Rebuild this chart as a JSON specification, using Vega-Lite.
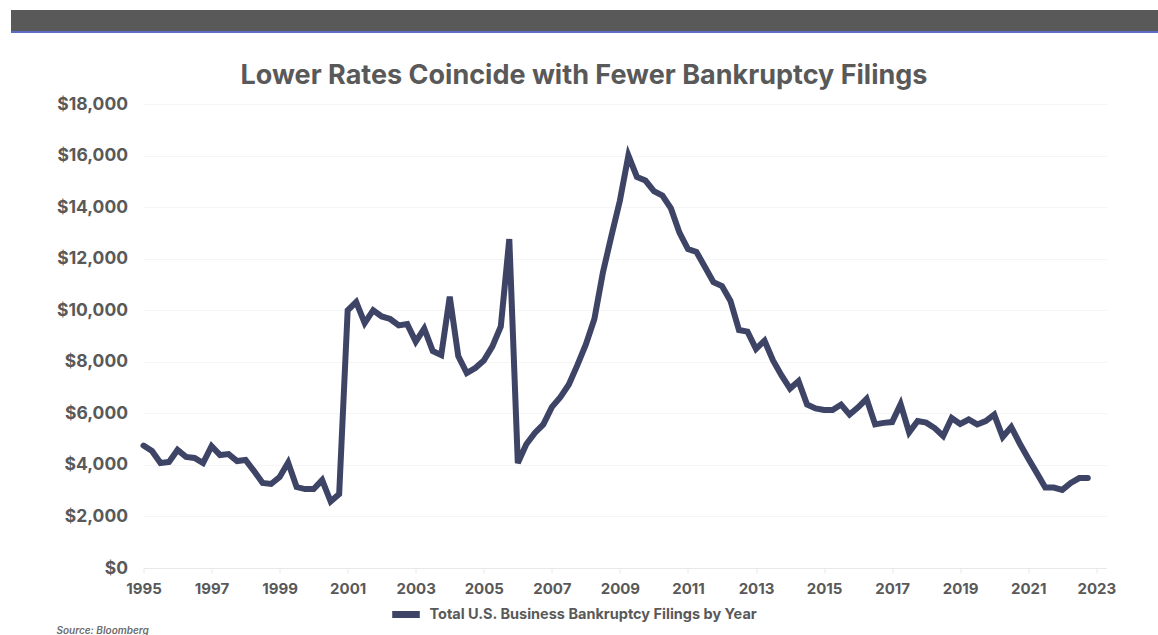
{
  "$schema": "https://vega.github.io/schema/vega-lite/v6.json",
  "background": "white",
  "padding": {"left": 10, "top": 10, "right": 0, "bottom": 0},
  "autosize": {"type": "pad"},
  "bounds": "flush",
  "center": true,
  "spacing": 72,
  "resolve": {"legend": {"color": "independent"}},
  "config": {"font": "Inter", "view": {"stroke": null}},
  "datasets": {
    "filings": [
      {"year": 1995.0, "filings": 4750}, {"year": 1995.25, "filings": 4540}, {"year": 1995.5, "filings": 4070}, {"year": 1995.75, "filings": 4110},
      {"year": 1996.0, "filings": 4580}, {"year": 1996.25, "filings": 4310}, {"year": 1996.5, "filings": 4270}, {"year": 1996.75, "filings": 4070},
      {"year": 1997.0, "filings": 4730}, {"year": 1997.25, "filings": 4380}, {"year": 1997.5, "filings": 4420}, {"year": 1997.75, "filings": 4150},
      {"year": 1998.0, "filings": 4190}, {"year": 1998.25, "filings": 3760}, {"year": 1998.5, "filings": 3300}, {"year": 1998.75, "filings": 3260},
      {"year": 1999.0, "filings": 3530}, {"year": 1999.25, "filings": 4090}, {"year": 1999.5, "filings": 3140}, {"year": 1999.75, "filings": 3060},
      {"year": 2000.0, "filings": 3060}, {"year": 2000.25, "filings": 3410}, {"year": 2000.5, "filings": 2580}, {"year": 2000.75, "filings": 2870},
      {"year": 2001.0, "filings": 10000}, {"year": 2001.25, "filings": 10320}, {"year": 2001.5, "filings": 9500}, {"year": 2001.75, "filings": 10000},
      {"year": 2002.0, "filings": 9760}, {"year": 2002.25, "filings": 9660}, {"year": 2002.5, "filings": 9410}, {"year": 2002.75, "filings": 9460},
      {"year": 2003.0, "filings": 8780}, {"year": 2003.25, "filings": 9290}, {"year": 2003.5, "filings": 8420}, {"year": 2003.75, "filings": 8260},
      {"year": 2004.0, "filings": 10530}, {"year": 2004.25, "filings": 8220}, {"year": 2004.5, "filings": 7560}, {"year": 2004.75, "filings": 7760},
      {"year": 2005.0, "filings": 8050}, {"year": 2005.25, "filings": 8590}, {"year": 2005.5, "filings": 9370}, {"year": 2005.75, "filings": 12760},
      {"year": 2006.0, "filings": 4070}, {"year": 2006.25, "filings": 4800}, {"year": 2006.5, "filings": 5240}, {"year": 2006.75, "filings": 5570},
      {"year": 2007.0, "filings": 6240}, {"year": 2007.25, "filings": 6630}, {"year": 2007.5, "filings": 7120}, {"year": 2007.75, "filings": 7870},
      {"year": 2008.0, "filings": 8670}, {"year": 2008.25, "filings": 9660}, {"year": 2008.5, "filings": 11460}, {"year": 2008.75, "filings": 12880},
      {"year": 2009.0, "filings": 14250}, {"year": 2009.25, "filings": 16000}, {"year": 2009.5, "filings": 15170}, {"year": 2009.75, "filings": 15030},
      {"year": 2010.0, "filings": 14620}, {"year": 2010.25, "filings": 14450}, {"year": 2010.5, "filings": 13950}, {"year": 2010.75, "filings": 13010},
      {"year": 2011.0, "filings": 12370}, {"year": 2011.25, "filings": 12260}, {"year": 2011.5, "filings": 11680}, {"year": 2011.75, "filings": 11090},
      {"year": 2012.0, "filings": 10940}, {"year": 2012.25, "filings": 10360}, {"year": 2012.5, "filings": 9230}, {"year": 2012.75, "filings": 9170},
      {"year": 2013.0, "filings": 8500}, {"year": 2013.25, "filings": 8820}, {"year": 2013.5, "filings": 8050}, {"year": 2013.75, "filings": 7470},
      {"year": 2014.0, "filings": 6960}, {"year": 2014.25, "filings": 7250}, {"year": 2014.5, "filings": 6340}, {"year": 2014.75, "filings": 6190},
      {"year": 2015.0, "filings": 6130}, {"year": 2015.25, "filings": 6130}, {"year": 2015.5, "filings": 6340}, {"year": 2015.75, "filings": 5950},
      {"year": 2016.0, "filings": 6230}, {"year": 2016.25, "filings": 6560}, {"year": 2016.5, "filings": 5570}, {"year": 2016.75, "filings": 5630},
      {"year": 2017.0, "filings": 5660}, {"year": 2017.25, "filings": 6360}, {"year": 2017.5, "filings": 5260}, {"year": 2017.75, "filings": 5700},
      {"year": 2018.0, "filings": 5640}, {"year": 2018.25, "filings": 5430}, {"year": 2018.5, "filings": 5120}, {"year": 2018.75, "filings": 5820},
      {"year": 2019.0, "filings": 5590}, {"year": 2019.25, "filings": 5760}, {"year": 2019.5, "filings": 5570}, {"year": 2019.75, "filings": 5700},
      {"year": 2020.0, "filings": 5950}, {"year": 2020.25, "filings": 5080}, {"year": 2020.5, "filings": 5470}, {"year": 2020.75, "filings": 4830},
      {"year": 2021.0, "filings": 4250}, {"year": 2021.25, "filings": 3690}, {"year": 2021.5, "filings": 3120}, {"year": 2021.75, "filings": 3120},
      {"year": 2022.0, "filings": 3030}, {"year": 2022.25, "filings": 3300}, {"year": 2022.5, "filings": 3490}, {"year": 2022.75, "filings": 3490}
    ]
  },
  "vconcat": [
    {
      "width": 1228,
      "height": 22,
      "data": {"values": [{}]},
      "title": {
        "text": "Lower Rates Coincide with Fewer Bankruptcy Filings",
        "orient": "bottom",
        "anchor": "middle",
        "fontSize": 27,
        "fontWeight": 700,
        "color": "#595959",
        "offset": 30,
        "dx": -41
      },
      "layer": [
        {
          "mark": {"type": "rect", "color": "#595959"},
          "encoding": {
            "y": {"datum": 0, "type": "quantitative", "scale": {"domain": [0, 1], "nice": false}, "axis": null},
            "y2": {"datum": 1}
          }
        },
        {
          "mark": {"type": "rule", "color": "#5b6bc8", "strokeWidth": 2},
          "encoding": {
            "y": {"datum": 0, "type": "quantitative", "axis": null}
          }
        }
      ]
    },
    {
      "width": 963,
      "height": 464,
      "data": {"name": "filings"},
      "title": {
        "text": "Source: Bloomberg",
        "orient": "bottom",
        "anchor": "start",
        "frame": "bounds",
        "fontSize": 10,
        "fontStyle": "italic",
        "fontWeight": 600,
        "color": "#6b6b6b",
        "offset": -3
      },
      "mark": {"type": "line", "strokeWidth": 6, "strokeCap": "round"},
      "encoding": {
        "x": {
          "field": "year",
          "type": "quantitative",
          "scale": {"domain": [1995, 2023.3], "nice": false, "zero": false},
          "axis": {
            "values": [1995, 1997, 1999, 2001, 2003, 2005, 2007, 2009, 2011, 2013, 2015, 2017, 2019, 2021, 2023],
            "format": "d",
            "title": null,
            "grid": false,
            "domainColor": "#e8e8e8",
            "tickColor": "#e8e8e8",
            "tickSize": 5,
            "labelFontSize": 15,
            "labelFontWeight": 700,
            "labelColor": "#595959",
            "labelPadding": 8,
            "labelFlush": false
          }
        },
        "y": {
          "field": "filings",
          "type": "quantitative",
          "scale": {"domain": [0, 18000], "nice": false},
          "axis": {
            "values": [0, 2000, 4000, 6000, 8000, 10000, 12000, 14000, 16000, 18000],
            "format": "$,.0f",
            "title": null,
            "domain": false,
            "ticks": false,
            "gridColor": "#f5f5f5",
            "labelFontSize": 17.5,
            "labelFontWeight": 700,
            "labelColor": "#595959",
            "labelPadding": 16
          }
        },
        "color": {
          "datum": "Total U.S. Business Bankruptcy Filings by Year",
          "type": "nominal",
          "scale": {"range": ["#3d4465"]},
          "legend": {
            "orient": "none",
            "legendX": 245,
            "legendY": 493,
            "title": null,
            "symbolType": "stroke",
            "symbolStrokeWidth": 7,
            "symbolSize": 760,
            "labelFontSize": 14.5,
            "labelFontWeight": 700,
            "labelColor": "#595959",
            "labelLimit": 600,
            "labelOffset": 6
          }
        }
      }
    }
  ]
}
